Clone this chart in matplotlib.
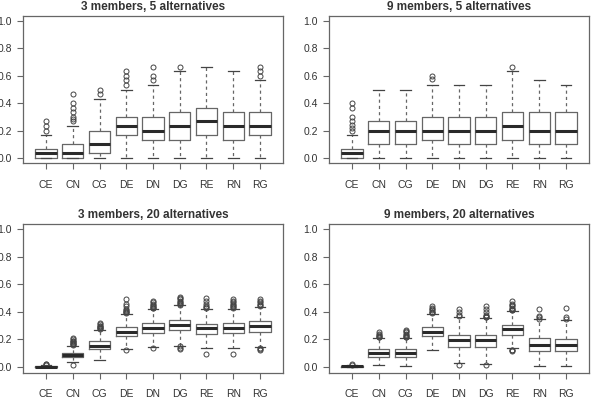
import matplotlib
matplotlib.use("Agg")
import matplotlib.pyplot as plt

plt.rcParams['font.family'] = ['Liberation Sans', 'DejaVu Sans']

labels = ["CE", "CN", "CG", "DE", "DN", "DG", "RE", "RN", "RG"]
titles = ["3 members, 5 alternatives", "9 members, 5 alternatives",
          "3 members, 20 alternatives", "9 members, 20 alternatives"]

# box stats: lower whisker, q1, median, q3, upper whisker, outliers
lo_3m5a = [0, 0, 0, 0, 0, 0, 0, 0, 0]
q1_3m5a = [0, 0, 0.033, 0.167, 0.133, 0.133, 0.167, 0.133, 0.167]
med_3m5a = [0.033, 0.033, 0.1, 0.233, 0.2, 0.233, 0.267, 0.233, 0.233]
q3_3m5a = [0.067, 0.1, 0.2, 0.3, 0.3, 0.333, 0.367, 0.333, 0.333]
hi_3m5a = [0.167, 0.233, 0.433, 0.5, 0.533, 0.633, 0.667, 0.633, 0.567]
out_3m5a = [[0.2, 0.233, 0.267],
            [0.267, 0.283, 0.3, 0.333, 0.367, 0.4, 0.467],
            [0.467, 0.5],
            [0.533, 0.567, 0.6, 0.633],
            [0.567, 0.6, 0.667],
            [0.667],
            [], [],
            [0.6, 0.633, 0.667]]

lo_9m5a = [0, 0, 0, 0, 0, 0, 0, 0, 0]
q1_9m5a = [0, 0.1, 0.1, 0.133, 0.1, 0.1, 0.133, 0.1, 0.1]
med_9m5a = [0.033, 0.2, 0.2, 0.2, 0.2, 0.2, 0.233, 0.2, 0.2]
q3_9m5a = [0.067, 0.267, 0.267, 0.3, 0.3, 0.3, 0.333, 0.333, 0.333]
hi_9m5a = [0.167, 0.5, 0.5, 0.533, 0.533, 0.533, 0.633, 0.567, 0.533]
out_9m5a = [[0.196, 0.218, 0.244, 0.267, 0.3, 0.367, 0.4],
            [], [],
            [0.578, 0.6],
            [], [],
            [0.667],
            [], []]

lo_3m20a = [0, 0.035, 0.053, 0.13, 0.146, 0.155, 0.138, 0.138, 0.146]
q1_3m20a = [0, 0.07, 0.128, 0.222, 0.248, 0.265, 0.24, 0.248, 0.252]
med_3m20a = [0.003, 0.088, 0.155, 0.257, 0.282, 0.303, 0.279, 0.284, 0.294]
q3_3m20a = [0.007, 0.104, 0.185, 0.29, 0.316, 0.34, 0.313, 0.32, 0.333]
hi_3m20a = [0.012, 0.155, 0.27, 0.385, 0.417, 0.447, 0.422, 0.422, 0.437]
out_3m20a = [[0.015, 0.018, 0.02],
             [0.012, 0.16, 0.165, 0.17, 0.175, 0.18, 0.185, 0.19, 0.2, 0.21],
             [0.275, 0.28, 0.285, 0.29, 0.295, 0.3, 0.31, 0.32],
             [0.12, 0.39, 0.395, 0.4, 0.405, 0.41, 0.42, 0.44, 0.455, 0.495],
             [0.14, 0.425, 0.43, 0.435, 0.44, 0.45, 0.46, 0.47, 0.48],
             [0.15, 0.14, 0.132, 0.452, 0.46, 0.465, 0.47, 0.48, 0.49, 0.5, 0.51],
             [0.095, 0.428, 0.435, 0.44, 0.454, 0.478, 0.5],
             [0.095, 0.428, 0.435, 0.44, 0.45, 0.46, 0.47, 0.48, 0.49],
             [0.138, 0.128, 0.12, 0.442, 0.45, 0.46, 0.47, 0.48, 0.49]]

lo_9m20a = [0, 0.012, 0.01, 0.121, 0.029, 0.024, 0.138, 0.01, 0.01]
q1_9m20a = [0, 0.073, 0.073, 0.223, 0.146, 0.143, 0.235, 0.119, 0.114]
med_9m20a = [0.005, 0.102, 0.1, 0.257, 0.194, 0.192, 0.272, 0.16, 0.158]
q3_9m20a = [0.008, 0.131, 0.131, 0.291, 0.235, 0.233, 0.306, 0.211, 0.206]
hi_9m20a = [0.012, 0.211, 0.211, 0.386, 0.364, 0.357, 0.405, 0.345, 0.34]
out_9m20a = [[0.015, 0.018],
             [0.215, 0.22, 0.225, 0.23, 0.24, 0.25],
             [0.215, 0.22, 0.225, 0.23, 0.24, 0.25, 0.26, 0.27],
             [0.39, 0.395, 0.4, 0.41, 0.42, 0.43, 0.44],
             [0.017, 0.37, 0.38, 0.4, 0.42],
             [0.015, 0.36, 0.365, 0.37, 0.38, 0.4, 0.42, 0.44],
             [0.114, 0.12, 0.126, 0.41, 0.415, 0.42, 0.43, 0.44, 0.45, 0.46, 0.48],
             [0.35, 0.36, 0.37, 0.42],
             [0.345, 0.36, 0.425]]

panels = [
    (lo_3m5a, q1_3m5a, med_3m5a, q3_3m5a, hi_3m5a, out_3m5a),
    (lo_9m5a, q1_9m5a, med_9m5a, q3_9m5a, hi_9m5a, out_9m5a),
    (lo_3m20a, q1_3m20a, med_3m20a, q3_3m20a, hi_3m20a, out_3m20a),
    (lo_9m20a, q1_9m20a, med_9m20a, q3_9m20a, hi_9m20a, out_9m20a),
]

# axes rectangles in figure fractions (left, bottom, width, height)
rects = [(23/592, 1 - 163.5/400, 260/592, 148/400),
         (329/592, 1 - 163.5/400, 260/592, 148/400),
         (23/592, 1 - 372.5/400, 260/592, 149/400),
         (329/592, 1 - 372.5/400, 260/592, 149/400)]

line_col = "#666666"
text_col = "#333333"

fig = plt.figure(figsize=(5.92, 4.0), dpi=100)

for title, rect, (lo, q1, med, q3, hi, out) in zip(titles, rects, panels):
    ax = fig.add_axes(rect)
    stats = []
    for i in range(len(labels)):
        stats.append(dict(whislo=lo[i], q1=q1[i], med=med[i], q3=q3[i],
                          whishi=hi[i], fliers=out[i], label=labels[i]))
    ax.bxp(stats, positions=range(1, 10), widths=0.8, capwidths=0.4,
           boxprops=dict(color=line_col, linewidth=0.9),
           medianprops=dict(color="#2a2a2a", linewidth=2.2, solid_capstyle="butt"),
           whiskerprops=dict(color=line_col, linewidth=0.9, linestyle=(0, (2.5, 2.5))),
           capprops=dict(color="#444444", linewidth=0.9),
           flierprops=dict(marker="o", markersize=3.6, markerfacecolor="none",
                           markeredgecolor="#444444", markeredgewidth=0.7))
    ax.set_xlim(0.14, 9.86)
    ax.set_ylim(-0.04, 1.04)
    ax.set_yticks([0, 0.2, 0.4, 0.6, 0.8, 1.0])
    ax.set_yticklabels(["0.0", "0.2", "0.4", "0.6", "0.8", "1.0"])
    ax.tick_params(axis="y", direction="out", length=4, width=0.8, color=line_col,
                   labelsize=7.5, labelcolor=text_col, pad=4)
    ax.tick_params(axis="x", direction="out", length=4, width=0.8, color=line_col,
                   labelsize=7.5, labelcolor=text_col, pad=8)
    for sp in ax.spines.values():
        sp.set_color(line_col)
        sp.set_linewidth(0.9)
    ax.set_title(title, fontsize=8.5, fontweight="bold", color=text_col, pad=4)

fig.savefig("out.png", dpi=100)
